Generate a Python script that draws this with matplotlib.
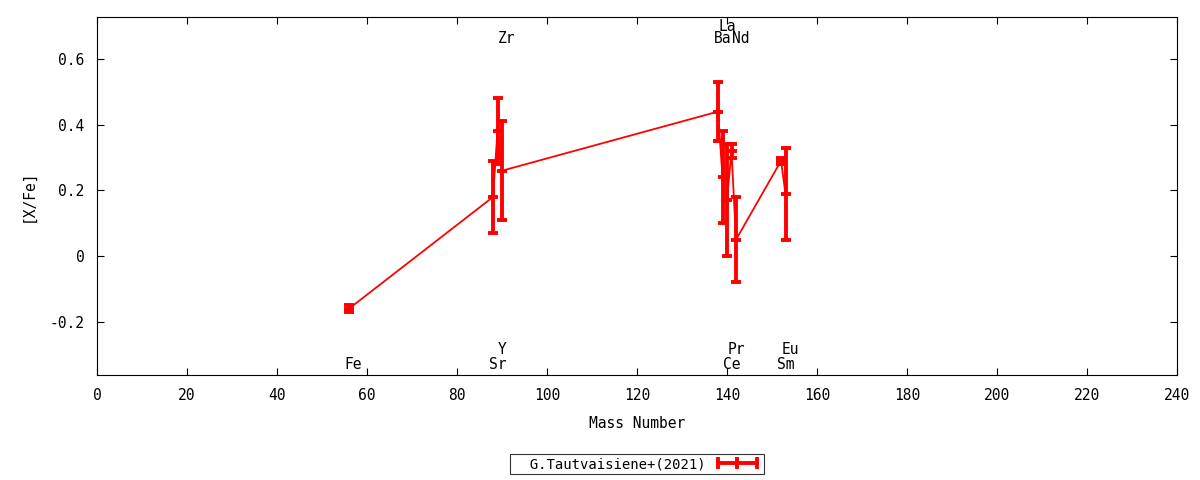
"""[X/Fe] vs mass number, G.Tautvaisiene+(2021)."""
import matplotlib
matplotlib.use("Agg")
import matplotlib.pyplot as plt
from matplotlib.lines import Line2D

plt.rcParams["font.family"] = ["DejaVu Sans Mono"]
plt.rcParams["font.size"] = 10

elements = ["Fe", "Sr", "Y", "Zr", "Ba", "La", "Ce", "Pr", "Nd", "Sm", "Eu"]
mass = [56, 88, 89, 90, 138, 139, 140, 141, 142, 152, 153]
xfe = [-0.16, 0.18, 0.38, 0.26, 0.44, 0.24, 0.17, 0.32, 0.05, 0.29, 0.19]
xfe_err = [0.01, 0.11, 0.10, 0.15, 0.09, 0.14, 0.17, 0.02, 0.13, 0.01, 0.14]
# where each element name is written: top / top2 / bottom / bottom2
label_row = ["bottom", "bottom", "bottom2", "top", "top", "top2",
             "bottom", "bottom2", "top", "bottom", "bottom2"]
row_y = {"top": 0.664, "top2": 0.700, "bottom": -0.329, "bottom2": -0.283}

fig = plt.figure(figsize=(12, 4.8), dpi=100)
ax = fig.add_axes([97 / 1200, 1 - 375 / 480, 0.9, (375 - 17) / 480])

ax.errorbar(mass, xfe, yerr=xfe_err, fmt="-", color="red", lw=1.3,
            elinewidth=2.8, capsize=3.5, capthick=2.8,
            marker="_", ms=7, mew=2.8)

for el, m, row in zip(elements, mass, label_row):
    ax.text(m + 1, row_y[row], el, ha="center", va="center", fontsize=10.5)

ax.set_xlim(0, 240)
ax.set_ylim(-0.362, 0.728)
ax.set_xticks(range(0, 241, 20))
ax.set_yticks([-0.2, 0, 0.2, 0.4, 0.6])
ax.set_yticklabels(["-0.2", "0", "0.2", "0.4", "0.6"])
ax.tick_params(direction="in", top=True, right=True, length=5, width=0.8, pad=9,
               labelsize=10.5)
ax.set_xlabel("Mass Number", labelpad=10, fontsize=10.5)
ax.set_ylabel("[X/Fe]", labelpad=10, fontsize=10.5)

handle = Line2D([], [], color="red", lw=2.8, marker="|", ms=8, mew=2.8)
leg = ax.legend([handle], ["  G.Tautvaisiene+(2021)"], loc="upper center",
                bbox_to_anchor=(0.5, -0.222), numpoints=3,
                markerfirst=False, frameon=True, fancybox=False,
                handlelength=3.4, borderpad=0.2, handletextpad=0.6,
                borderaxespad=0, fontsize=10)
leg.get_frame().set_edgecolor("black")
leg.get_frame().set_linewidth(0.8)

fig.savefig("out.png", dpi=100)
